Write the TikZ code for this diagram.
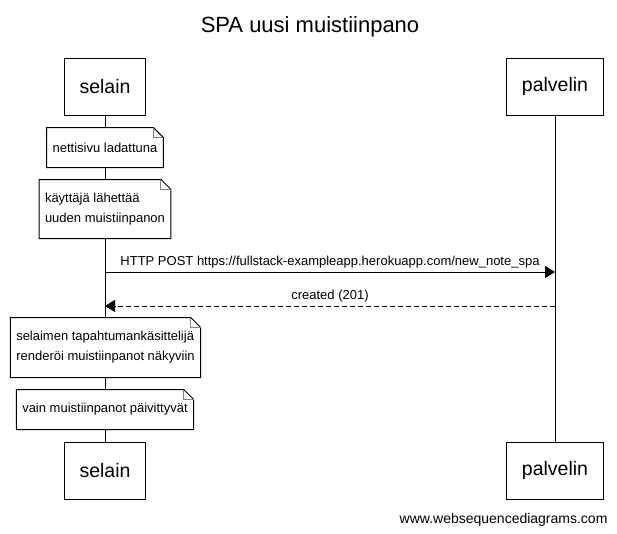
\documentclass[tikz,border=0pt]{standalone}
\usepackage{fontspec}
\setmainfont{Liberation Sans}
\usetikzlibrary{arrows.meta}

\begin{document}
\begin{tikzpicture}[
    x=1pt, y=-1pt,
    line width=1pt,
    actor/.style={draw, fill=white, inner xsep=15pt, minimum height=57pt, font=\fontsize{19.5}{22}\selectfont},
    note/.style={fill=white, inner xsep=5.5pt, inner ysep=0pt, minimum height=39pt, align=left, font=\fontsize{13}{20}\selectfont},
    msg/.style={-{Triangle[length=10pt, width=12pt]}},
    reply/.style={msg, dash pattern=on 5pt off 3pt},
    lbl/.style={font=\fontsize{13}{15}\selectfont}
]
    \useasboundingbox (0,0) rectangle (617,533);

    % --- 1. Otsikko ---
    \node (title) at (310,27) {\fontsize{22}{24}\selectfont SPA uusi muistiinpano};

    % --- 2. Osapuolet ja elämänviivat ---
    \node[actor] (selain_top) at (105,86.5) {selain};
    \node[actor] (palvelin_top) at (555,86.5) {palvelin};
    \node[actor] (selain_bot) at (105,470.5) {selain};
    \node[actor] (palvelin_bot) at (555,470.5) {palvelin};

    \draw (selain_top) -- (selain_bot);
    \draw (palvelin_top) -- (palvelin_bot);

    % --- 3. Muistilaput ---
    % macro joka piirtää lapun reunan taitetulla kulmalla
    \newcommand{\drawNote}[1]{
        \draw (#1.south west) -- (#1.north west) -- ([xshift=-10pt]#1.north east)
            -- ([yshift=-10pt]#1.north east) -- (#1.south east) -- cycle;
        \draw[gray] ([xshift=-10pt]#1.north east) -- ([xshift=-10pt, yshift=-10pt]#1.north east)
            -- ([yshift=-10pt]#1.north east);
    }

    \node[note] (note_loaded) at (105,147.5) {nettisivu ladattuna};
    \drawNote{note_loaded}

    \node[note, minimum height=58pt] (note_send) at (105,209) {käyttäjä lähettää\\uuden muistiinpanon};
    \drawNote{note_send}

    % --- 4. Viestit ---
    \coordinate (post_from) at (105,272);
    \coordinate (post_to) at (555,272);
    \draw[msg] (post_from) -- (post_to)
        node[lbl, midway, above=0pt] {HTTP POST https://fullstack-exampleapp.herokuapp.com/new\_note\_spa};

    \coordinate (created_from) at (555,306);
    \coordinate (created_to) at (105,306);
    \draw[reply] (created_from) -- (created_to)
        node[lbl, midway, above=0pt] {created (201)};

    % --- 5. Loput lapuista ---
    \node[note, minimum height=59pt] (note_render) at (105.5,347.5) {selaimen tapahtumankäsittelijä\\renderöi muistiinpanot näkyviin};
    \drawNote{note_render}

    \node[note] (note_update) at (105,409.5) {vain muistiinpanot päivittyvät};
    \drawNote{note_update}

    % alatunniste
    \node[anchor=east, font=\fontsize{14}{16}\selectfont] (footer) at (611.3,520) {www.websequencediagrams.com};

\end{tikzpicture}
\end{document}
